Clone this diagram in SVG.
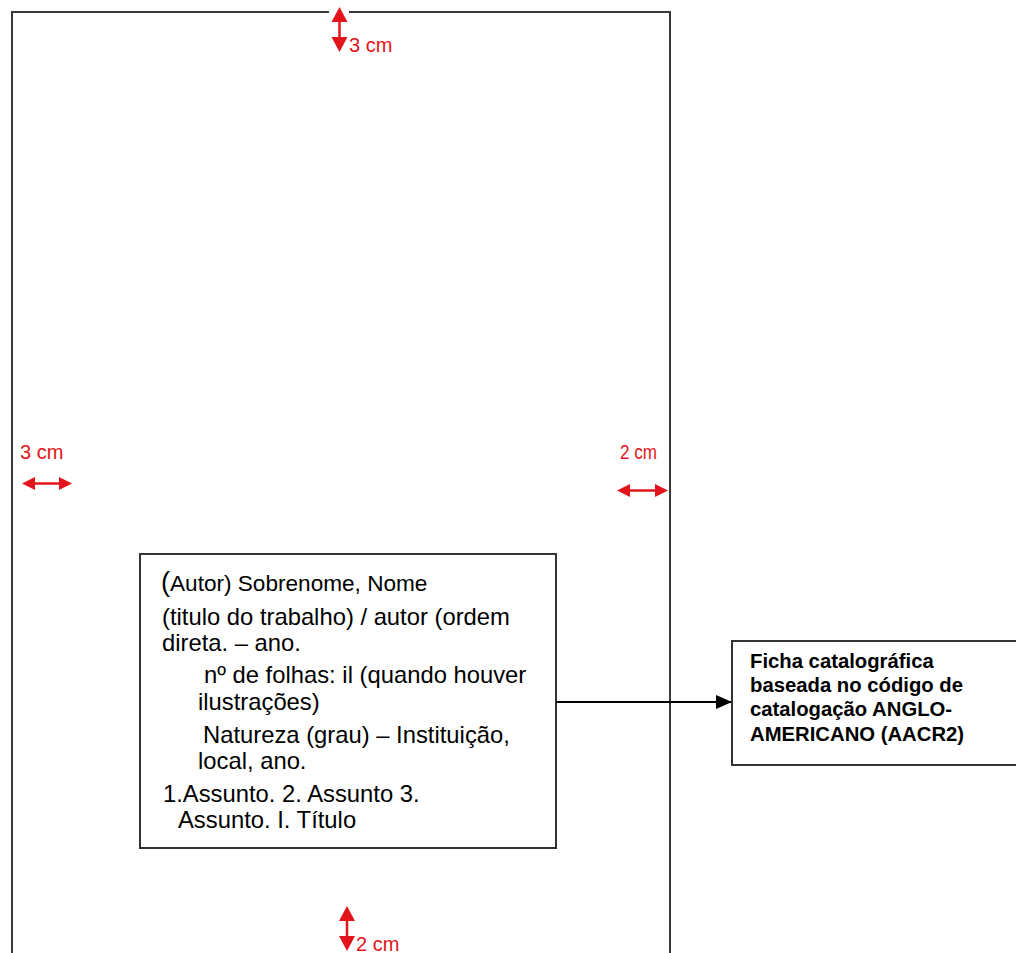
<svg xmlns="http://www.w3.org/2000/svg" width="1016" height="953" viewBox="0 0 1016 953">
<style>
.frame{fill:none;stroke:#3a3a3a;stroke-width:2}
.box{fill:#fff;stroke:#333;stroke-width:2}
.red{fill:#e3141b}
.redline{stroke:#e3141b;stroke-width:2.5;fill:none}
.rt{font-family:"Liberation Sans",Arial,sans-serif;font-size:20px;fill:#e3141b}
.bt{font-family:"Liberation Sans",Arial,sans-serif;font-size:23.8px;fill:#000}
.nt{font-family:"Liberation Sans",Arial,sans-serif;font-size:20.3px;font-weight:bold;fill:#000}
.conn{stroke:#000;stroke-width:2;fill:none}
</style>
<defs>
<marker id="arr" markerWidth="16" markerHeight="14" refX="15" refY="7" orient="auto" markerUnits="userSpaceOnUse">
<path d="M0,0 L16,7 L0,14 Z" fill="#000"/>
</marker>
</defs>
<rect width="1016" height="953" fill="#fff"/>
<g id="page">
<path class="frame" d="M12,953 V12 H670 V953"/>
</g>
<g id="margin-top">
<rect x="329" y="4" width="20" height="18" fill="#fff"/>
<line class="redline" x1="339.5" y1="20" x2="339.5" y2="39"/>
<polygon class="red" points="331.5,22 339.5,7 347.5,22"/>
<polygon class="red" points="331.5,37 339.5,52 347.5,37"/>
<text class="rt" x="349" y="52">3 cm</text>
</g>
<g id="margin-left">
<text class="rt" x="20" y="459">3 cm</text>
<line class="redline" x1="33" y1="483.5" x2="61" y2="483.5"/>
<polygon class="red" points="22,483.5 35,477 35,490"/>
<polygon class="red" points="72,483.5 59,477 59,490"/>
</g>
<g id="margin-right">
<text class="rt" x="620" y="459" font-size="19" textLength="37" lengthAdjust="spacingAndGlyphs">2 cm</text>
<line class="redline" x1="628" y1="490.5" x2="657" y2="490.5"/>
<polygon class="red" points="617,490.5 630,484 630,497"/>
<polygon class="red" points="668,490.5 655,484 655,497"/>
</g>
<g id="margin-bottom">
<line class="redline" x1="347" y1="918" x2="347" y2="939"/>
<polygon class="red" points="339,921 347,906 355,921"/>
<polygon class="red" points="339,936 347,951 355,936"/>
<text class="rt" x="356" y="951">2 cm</text>
</g>
<g id="ficha">
<rect class="box" x="140" y="554" width="416" height="294"/>
<text class="bt" x="161" y="591"><tspan font-size="27">(</tspan><tspan font-size="22.6">Autor) Sobrenome, Nome</tspan></text>
<text class="bt" x="162" y="625">(titulo do trabalho) / autor (ordem</text>
<text class="bt" x="162" y="651">direta. – ano.</text>
<text class="bt" x="204" y="683">nº de folhas: il (quando houver</text>
<text class="bt" x="198" y="710">ilustrações)</text>
<text class="bt" x="203" y="743">Natureza (grau) – Instituição,</text>
<text class="bt" x="198" y="769">local, ano.</text>
<text class="bt" x="163" y="802">1.Assunto. 2. Assunto 3.</text>
<text class="bt" x="178" y="828">Assunto. I. Título</text>
</g>
<g id="nota">
<path class="box" d="M1017,641 H732 V765 H1017"/>
<text class="nt" x="750" y="668">Ficha catalográfica</text>
<text class="nt" x="750" y="692">baseada no código de</text>
<text class="nt" x="750" y="716">catalogação ANGLO-</text>
<text class="nt" x="750" y="741">AMERICANO (AACR2)</text>
</g>
<g id="connectors">
<line class="conn" x1="556" y1="702" x2="731" y2="702" marker-end="url(#arr)"/>
</g>
</svg>
